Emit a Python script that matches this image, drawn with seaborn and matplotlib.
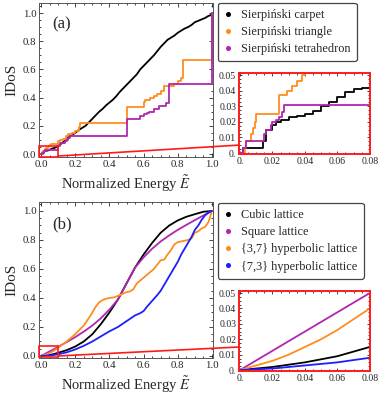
import seaborn as sns
import matplotlib.pyplot as plt
import numpy as np
import pandas as pd
from matplotlib.lines import Line2D
from matplotlib.patches import Rectangle, ConnectionPatch
from matplotlib.ticker import MultipleLocator, FuncFormatter

# ---- panel (a): fractal lattices (staircase IDoS) ----
carpet_e = [0, 0.002, 0.014, 0.016, 0.02, 0.022, 0.025, 0.03, 0.035, 0.04, 0.045,
            0.05, 0.055, 0.06, 0.065, 0.07, 0.075, 0.08, 0.09, 0.1, 0.12, 0.14,
            0.16, 0.18, 0.2, 0.22, 0.24, 0.26, 0.28, 0.3, 0.32, 0.34, 0.36, 0.38,
            0.4, 0.42, 0.44, 0.46, 0.48, 0.5, 0.52, 0.54, 0.56, 0.58, 0.6, 0.62,
            0.64, 0.66, 0.68, 0.7, 0.72, 0.74, 0.76, 0.78, 0.8, 0.82, 0.84, 0.86,
            0.88, 0.9, 0.92, 0.94, 0.96, 0.98, 0.995, 1.0]
carpet_n = [0, 0.003, 0.008, 0.015, 0.018, 0.020, 0.021, 0.023, 0.024, 0.025, 0.027,
            0.030, 0.033, 0.036, 0.039, 0.041, 0.042, 0.044, 0.05, 0.058, 0.075, 0.095,
            0.12, 0.135, 0.15, 0.17, 0.185, 0.2, 0.225, 0.25, 0.275, 0.3, 0.32, 0.345,
            0.365, 0.385, 0.41, 0.44, 0.465, 0.49, 0.515, 0.54, 0.565, 0.6, 0.625, 0.65,
            0.675, 0.7, 0.73, 0.76, 0.785, 0.81, 0.825, 0.84, 0.86, 0.875, 0.89, 0.9,
            0.915, 0.935, 0.945, 0.955, 0.965, 0.98, 0.985, 1.0]

triangle_e = [0, 0.003, 0.004, 0.007, 0.008, 0.009, 0.01, 0.024, 0.029, 0.032, 0.035,
              0.038, 0.04, 0.045, 0.05, 0.06, 0.07, 0.1, 0.11, 0.13, 0.145, 0.16, 0.18,
              0.2, 0.22, 0.225, 0.5, 0.6, 0.61, 0.64, 0.66, 0.68, 0.7, 0.72, 0.78, 0.8,
              0.82, 0.833, 1.0]
triangle_n = [0, 0.003, 0.008, 0.012, 0.016, 0.02, 0.025, 0.037, 0.04, 0.043, 0.046,
              0.05, 0.052, 0.058, 0.064, 0.068, 0.071, 0.09, 0.1, 0.11, 0.125, 0.14, 0.15,
              0.16, 0.19, 0.222, 0.333, 0.37, 0.385, 0.395, 0.41, 0.425, 0.445, 0.48, 0.5, 0.52,
              0.54, 0.667, 1.0]

tetra_e = [0, 0.002, 0.004, 0.015, 0.016, 0.019, 0.02, 0.022, 0.024, 0.026, 0.027,
           0.1, 0.11, 0.14, 0.15, 0.16, 0.17, 0.5, 0.58, 0.6, 0.62, 0.63, 0.66, 0.69,
           0.73, 0.75, 1.0]
tetra_n = [0, 0.003, 0.008, 0.012, 0.015, 0.018, 0.02, 0.021, 0.023, 0.026, 0.031,
           0.06, 0.075, 0.09, 0.1, 0.115, 0.125, 0.25, 0.27, 0.285, 0.29, 0.3, 0.32, 0.34,
           0.36, 0.5, 1.0]

# ---- panel (b): regular and hyperbolic lattices ----
cubic_e = [0, 0.02, 0.04, 0.06, 0.08, 0.1, 0.15, 0.2, 0.25, 0.3, 0.35, 0.4, 0.45, 0.5,
           0.55, 0.6, 0.65, 0.7, 0.75, 0.8, 0.85, 0.9, 0.95, 1.0]
cubic_n = [0, 0.002, 0.005, 0.009, 0.015, 0.022, 0.04, 0.065, 0.1, 0.15, 0.22, 0.3, 0.39,
           0.5, 0.61, 0.7, 0.78, 0.85, 0.9, 0.935, 0.96, 0.978, 0.995, 1.0]

square_e = [0, 0.02, 0.04, 0.06, 0.08, 0.1, 0.15, 0.2, 0.25, 0.3, 0.35, 0.4, 0.45, 0.5,
            0.55, 0.6, 0.65, 0.7, 0.75, 0.8, 0.85, 0.9, 0.95, 1.0]
square_n = [0, 0.0125, 0.025, 0.0375, 0.05, 0.063, 0.096, 0.13, 0.168, 0.21, 0.26, 0.32,
            0.39, 0.5, 0.61, 0.68, 0.74, 0.79, 0.832, 0.87, 0.904, 0.937, 0.969, 1.0]

hyp37_e = [0, 0.01, 0.02, 0.03, 0.04, 0.05, 0.06, 0.07, 0.08, 0.1, 0.12, 0.15, 0.18, 0.2,
           0.22, 0.25, 0.27, 0.29, 0.3, 0.32, 0.34, 0.36, 0.38, 0.4, 0.43, 0.46, 0.48, 0.5,
           0.52, 0.54, 0.56, 0.58, 0.6, 0.62, 0.64, 0.66, 0.68, 0.7, 0.72, 0.74, 0.76, 0.78,
           0.8, 0.82, 0.84, 0.86, 0.88, 0.9, 0.92, 0.94, 0.96, 0.98, 1.0]
hyp37_n = [0, 0.003, 0.006, 0.01, 0.015, 0.02, 0.026, 0.033, 0.04, 0.056, 0.074, 0.1, 0.13,
           0.15, 0.175, 0.21, 0.245, 0.28, 0.3, 0.34, 0.37, 0.385, 0.395, 0.4, 0.405, 0.42,
           0.43, 0.44, 0.445, 0.46, 0.5, 0.52, 0.54, 0.56, 0.58, 0.6, 0.63, 0.66, 0.665, 0.7,
           0.73, 0.77, 0.785, 0.79, 0.795, 0.8, 0.81, 0.85, 0.86, 0.88, 0.89, 0.925, 1.0]

hyp73_e = [0, 0.01, 0.02, 0.03, 0.04, 0.05, 0.06, 0.07, 0.08, 0.1, 0.15, 0.2, 0.25, 0.3,
           0.35, 0.4, 0.45, 0.5, 0.55, 0.58, 0.6, 0.62, 0.65, 0.68, 0.7, 0.72, 0.75, 0.78,
           0.8, 0.82, 0.85, 0.88, 0.9, 0.92, 0.94, 0.96, 0.98, 1.0]
hyp73_n = [0, 0.0005, 0.001, 0.002, 0.003, 0.004, 0.005, 0.0065, 0.008, 0.012, 0.025, 0.045,
           0.07, 0.1, 0.135, 0.17, 0.2, 0.24, 0.28, 0.295, 0.31, 0.34, 0.38, 0.42, 0.45, 0.49,
           0.55, 0.61, 0.65, 0.7, 0.76, 0.82, 0.87, 0.9, 0.94, 0.97, 0.99, 1.0]

labels_a = ["Sierpiński carpet", "Sierpiński triangle", "Sierpiński tetrahedron"]
labels_b = ["Cubic lattice", "Square lattice", "{3,7} hyperbolic lattice", "{7,3} hyperbolic lattice"]

BLACK, ORANGE, PURPLE, BLUE, RED = "#000000", "#FF8C1E", "#B026B0", "#1E1EFF", "#FF1A1A"

sns.set_style("ticks")
plt.rcParams["font.family"] = ["Liberation Serif", "DejaVu Serif"]
plt.rcParams["mathtext.fontset"] = "stix"
plt.rcParams["xtick.direction"] = "in"
plt.rcParams["ytick.direction"] = "in"

fig = plt.figure(figsize=(3.81, 4.0), dpi=100)
W, H = 381, 400


def px_axes(x0, y0, x1, y1):
    return fig.add_axes([x0 / W, 1 - y1 / H, (x1 - x0) / W, (y1 - y0) / H])


def style_main(ax, ylim):
    ax.set_xlim(-0.012, 1.006)
    ax.set_ylim(*ylim)
    ax.xaxis.set_major_locator(MultipleLocator(0.2))
    ax.yaxis.set_major_locator(MultipleLocator(0.2))
    ax.xaxis.set_minor_locator(MultipleLocator(0.05))
    ax.yaxis.set_minor_locator(MultipleLocator(0.05))
    ax.xaxis.set_major_formatter(FuncFormatter(lambda v, p: f"{v:.1f}"))
    ax.yaxis.set_major_formatter(FuncFormatter(lambda v, p: f"{v:.1f}"))
    ax.tick_params(which="both", top=True, right=True, labelsize=7.8, width=0.6, pad=2)
    ax.tick_params(which="major", length=3)
    ax.tick_params(which="minor", length=1.6)
    for s in ax.spines.values():
        s.set_linewidth(0.7)
        s.set_color("#555555")
    ax.set_xlabel(r"Normalized Energy $\tilde{E}$", fontsize=10.5, labelpad=3)
    ax.set_ylabel("IDoS", fontsize=11, labelpad=3)


def inset_fmt(v, p):
    return "0." if abs(v) < 1e-9 else f"{v:.2f}"


def style_inset(ax):
    ax.set_xlim(-0.0006, 0.0801)
    ax.set_ylim(-0.0006, 0.0513)
    ax.xaxis.set_major_locator(MultipleLocator(0.02))
    ax.yaxis.set_major_locator(MultipleLocator(0.01))
    ax.xaxis.set_minor_locator(MultipleLocator(0.005))
    ax.yaxis.set_minor_locator(MultipleLocator(0.0025))
    ax.xaxis.set_major_formatter(FuncFormatter(inset_fmt))
    ax.yaxis.set_major_formatter(FuncFormatter(inset_fmt))
    ax.tick_params(which="both", top=True, right=True, labelsize=7, width=0.6, pad=2)
    ax.tick_params(which="major", length=2.5)
    ax.tick_params(which="minor", length=1.3)
    for s in ax.spines.values():
        s.set_linewidth(1.4)
        s.set_color(RED)
    ax.set_xlabel("")
    ax.set_ylabel("")


def draw(ax, e, n, color, steps=False):
    df = pd.DataFrame({"E": e, "N": n})
    kw = {"drawstyle": "steps-post"} if steps else {}
    sns.lineplot(data=df, x="E", y="N", ax=ax, color=color, lw=1.3,
                 estimator=None, sort=False, legend=False, **kw)


def zoom_marks(ax_main, ax_in, rect, start, end_frac):
    x0, y0, x1, y1 = rect
    ax_main.add_patch(Rectangle((x0, y0), x1 - x0, y1 - y0, fill=False,
                                edgecolor=RED, lw=1.2, clip_on=False, zorder=5))
    con = ConnectionPatch(xyA=start, coordsA=ax_main.transData,
                          xyB=(0, end_frac), coordsB=ax_in.transAxes,
                          color=RED, lw=1.2, zorder=5)
    fig.add_artist(con)


def legend(ax, labels, colors, anchor):
    handles = [Line2D([], [], ls="none", marker="o", markersize=2.6, color=c) for c in colors]
    leg = ax.legend(handles, labels, loc="upper left", bbox_to_anchor=anchor,
                    bbox_transform=fig.transFigure, fontsize=8.8, frameon=True,
                    fancybox=True, handlelength=0.7, handletextpad=0.7,
                    labelspacing=0.42, borderpad=0.5, borderaxespad=0)
    leg.get_frame().set_edgecolor("#444444")
    leg.get_frame().set_linewidth(0.9)
    leg.get_frame().set_alpha(1)


# ---- panel (a) ----
ax_a = px_axes(39, 3, 213, 157)
ax_ai = px_axes(239, 73, 370, 154)
draw(ax_a, carpet_e, carpet_n, BLACK)
draw(ax_ai, carpet_e, carpet_n, BLACK, steps=True)
for ax in (ax_a, ax_ai):
    draw(ax, triangle_e, triangle_n, ORANGE, steps=True)
    draw(ax, tetra_e, tetra_n, PURPLE, steps=True)
style_main(ax_a, (-0.021, 1.071))
style_inset(ax_ai)
ax_a.text(0.075, 0.91, "(a)", transform=ax_a.transAxes, fontsize=12, va="top", ha="left")
zoom_marks(ax_a, ax_ai, (-0.01, -0.02, 0.1, 0.06), (0.1, -0.014), 0.11)
legend(ax_a, labels_a, [BLACK, ORANGE, PURPLE], (218 / W, 1 - 3 / H))

# ---- panel (b) ----
ax_b = px_axes(39, 202, 213, 358)
ax_bi = px_axes(239, 291, 370, 371)
for ax in (ax_b, ax_bi):
    draw(ax, cubic_e, cubic_n, BLACK)
    draw(ax, square_e, square_n, PURPLE)
    draw(ax, hyp37_e, hyp37_n, ORANGE)
    draw(ax, hyp73_e, hyp73_n, BLUE)
style_main(ax_b, (-0.014, 1.062))
style_inset(ax_bi)
ax_b.text(0.075, 0.91, "(b)", transform=ax_b.transAxes, fontsize=12, va="top", ha="left")
zoom_marks(ax_b, ax_bi, (-0.01, -0.01, 0.1, 0.07), (0.1, 0.0), 0.3)
legend(ax_b, labels_b, [BLACK, PURPLE, ORANGE, BLUE], (218 / W, 1 - 203 / H))

fig.savefig("out.png", dpi=100)
